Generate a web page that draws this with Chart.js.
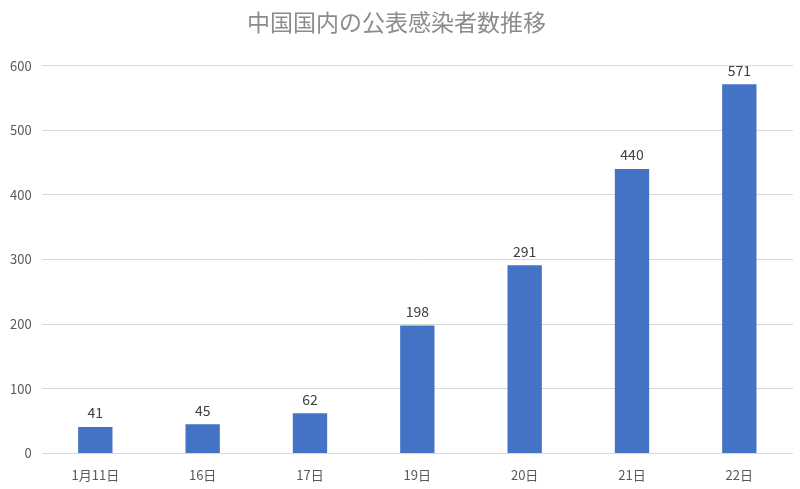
<!DOCTYPE html>
<html>
<head>
<meta charset="utf-8">
<script src="https://cdn.jsdelivr.net/npm/chart.js@4"></script>
<style>
  html, body { margin: 0; padding: 0; background: #fff; }
  #wrap { width: 800px; height: 489px; }
</style>
</head>
<body>
<div id="wrap"><canvas id="chart"></canvas></div>
<script>
var chartTitle = "中国国内の公表感染者数推移";
var dayLabels = ["1月11日", "16日", "17日", "19日", "20日", "21日", "22日"];
var caseCounts = [41, 45, 62, 198, 291, 440, 571];

var fontFamily = "'Noto Sans CJK JP', 'Noto Sans', sans-serif";

// draws the value above each bar
var valueLabels = {
  id: "valueLabels",
  afterDatasetsDraw: function (chart) {
    var ctx = chart.ctx;
    var meta = chart.getDatasetMeta(0);
    ctx.save();
    ctx.font = "14px " + fontFamily;
    ctx.fillStyle = "#404040";
    ctx.textAlign = "center";
    ctx.textBaseline = "bottom";
    meta.data.forEach(function (bar, i) {
      ctx.fillText(chart.data.datasets[0].data[i], bar.x, bar.y - 7);
    });
    ctx.restore();
  },
};

var ctx = document.getElementById("chart").getContext("2d");
var myChart = new Chart(ctx, {
  type: "bar",
  data: {
    labels: dayLabels,
    datasets: [
      {
        label: "感染者数",
        data: caseCounts,
        backgroundColor: "#4472C4",
        categoryPercentage: 1,
        barPercentage: 0.32,
      },
    ],
  },
  options: {
    responsive: true,
    maintainAspectRatio: false,
    animation: false,
    layout: { padding: { left: 0, right: 7, top: 2, bottom: -8 } },
    plugins: {
      legend: { display: false },
      tooltip: { enabled: false },
      title: {
        display: true,
        text: chartTitle,
        color: "#8c8c8c",
        font: { family: fontFamily, size: 23, weight: "normal" },
        padding: { top: 6, bottom: 30 },
      },
    },
    scales: {
      x: {
        grid: { display: false, drawTicks: false },
        border: { display: false },
        ticks: {
          color: "#595959",
          padding: 14,
          font: { family: fontFamily, size: 13 },
        },
      },
      y: {
        min: 0,
        max: 600,
        ticks: {
          stepSize: 100,
          color: "#595959",
          padding: 10,
          font: { family: fontFamily, size: 13 },
        },
        grid: { color: "#d9d9d9", drawTicks: false },
        border: { display: false },
      },
    },
  },
  plugins: [valueLabels],
});
</script>
</body>
</html>
